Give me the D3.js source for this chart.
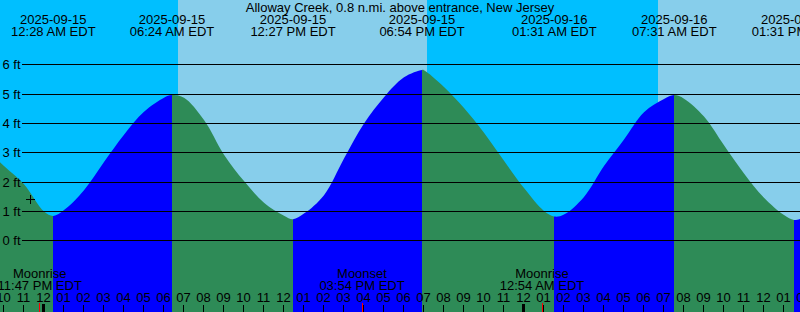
<!DOCTYPE html>
<html>
<head>
<meta charset="utf-8">
<script src="https://cdn.jsdelivr.net/npm/d3@7"></script>
<style>
    body { margin: 0; overflow: hidden; background: #fff; }
    svg { display: block; }
    text { font-family: "Liberation Sans", Arial, sans-serif; font-size: 13px; fill: #000; }
</style>
</head>
<body>
<div id="chart"></div>
<script>
    const title = 'Alloway Creek, 0.8 n.mi. above entrance, New Jersey';

    //high / low tides
    const extremeTimes = ['2025-09-15 00:28', '2025-09-15 06:24', '2025-09-15 12:27', '2025-09-15 18:54',
        '2025-09-16 01:31', '2025-09-16 07:31', '2025-09-16 13:31'];
    const extremeHeights = [0.85, 4.97, 0.74, 5.83, 0.83, 4.97, 0.71];
    const extremeTypes = ['L', 'H', 'L', 'H', 'L', 'H', 'L'];

    //hourly heights, first one at hourlyStart
    const hourlyStart = '2025-09-14 21:00';
    const hourlyHeights = [3.2, 2.55, 1.93, 1.0, 1.05, 1.73, 2.69, 3.62, 4.4, 4.88,
        4.88, 4.12, 2.94, 2.04, 1.3, 0.86, 0.93, 1.56, 2.81, 4.0,
        4.9, 5.58, 5.82, 5.25, 4.53, 3.69, 2.73, 1.8, 1.02, 0.9,
        1.5, 2.55, 3.46, 4.39, 4.84, 4.85, 4.24, 3.26, 2.3, 1.47,
        0.88, 0.8];

    //sun and moon
    const sunTimes = ['2025-09-15 06:42', '2025-09-15 19:09', '2025-09-16 06:42'];
    const sunTypes = ['rise', 'set', 'rise'];
    const moonTimes = ['2025-09-14 23:47', '2025-09-15 15:54', '2025-09-16 00:54'];
    const moonLabels = ['Moonrise', 'Moonset', 'Moonrise'];

    const feet = [0, 1, 2, 3, 4, 5, 6];
    const markerTime = '2025-09-14 23:18';
    const markerHeight = 1.4;

    const parse = d3.timeParse('%Y-%m-%d %H:%M');
    const fmtDate = d3.timeFormat('%Y-%m-%d');
    const fmtTime = d3.timeFormat('%I:%M %p');
    const width = 800;
    const height = 312;

    const svg = d3.select('#chart')
        .append('svg')
        .attr('width', width)
        .attr('height', height);

    //scales
    const x = d3.scaleTime()
        .domain([parse('2025-09-15 00:00'), parse('2025-09-16 00:00')])
        .range([44, 524]);
    const y = d3.scaleLinear()
        .domain([0, 6])
        .range([240.9, 64.9]);

    //sky
    const skyBounds = [x.invert(-5), ...sunTimes.map(parse), x.invert(width + 5)];
    svg.append('g')
        .selectAll('rect')
        .data(d3.pairs(skyBounds))
        .join('rect')
        .attr('x', d => Math.round(x(d[0])))
        .attr('width', d => Math.round(x(d[1])) - Math.round(x(d[0])))
        .attr('y', 0)
        .attr('height', height)
        .attr('fill', (d, i) => {
            const night = i < sunTypes.length ? sunTypes[i] === 'rise' : sunTypes[sunTypes.length - 1] === 'set';
            return night ? '#00bfff' : '#87ceeb';
        });

    //tide points
    const t0 = parse(hourlyStart);
    const points = hourlyHeights
        .map((h, i) => ({ t: d3.timeHour.offset(t0, i), h }))
        .concat(extremeTimes.map((t, i) => ({ t: parse(t), h: extremeHeights[i] })))
        .sort((a, b) => a.t - b.t);

    const area = d3.area()
        .x(d => x(d.t))
        .y0(height)
        .y1(d => y(d.h))
        .curve(d3.curveCatmullRom.alpha(0.5));

    //rising = blue, falling = green
    const tideBounds = [x.invert(-20), ...extremeTimes.map(parse), x.invert(width + 20)];
    const n = extremeTypes.length;
    const defs = svg.append('defs');
    const tide = svg.append('g');
    d3.pairs(tideBounds).forEach((d, i) => {
        const x0 = Math.round(x(d[0]));
        const x1 = Math.round(x(d[1]));
        defs.append('clipPath')
            .attr('id', 'seg' + i)
            .append('rect')
            .attr('x', x0)
            .attr('width', x1 - x0)
            .attr('y', 0)
            .attr('height', height);
        const falling = i < n ? extremeTypes[i] === 'L' : extremeTypes[n - 1] === 'H';
        tide.append('path')
            .datum(points)
            .attr('d', area)
            .attr('clip-path', `url(#seg${i})`)
            .attr('fill', falling ? '#2e8b57' : '#0000ff');
    });

    //grid lines
    svg.append('g')
        .selectAll('line')
        .data(feet)
        .join('line')
        .attr('x1', 22)
        .attr('x2', width)
        .attr('y1', d => Math.floor(y(d)) + 0.5)
        .attr('y2', d => Math.floor(y(d)) + 0.5)
        .attr('stroke', '#000')
        .attr('stroke-width', 1);

    svg.append('g')
        .selectAll('text')
        .data(feet)
        .join('text')
        .attr('x', 20.5)
        .attr('y', d => y(d) + 4.3)
        .attr('text-anchor', 'end')
        .text(d => d + ' ft');

    //title
    svg.append('text')
        .attr('x', width / 2)
        .attr('y', 12)
        .attr('text-anchor', 'middle')
        .text(title);

    //extreme labels
    const tideLabels = svg.append('g')
        .selectAll('g')
        .data(extremeTimes.map(parse))
        .join('g')
        .attr('transform', d => `translate(${x(d)},0)`);
    tideLabels.append('text')
        .attr('y', 24)
        .attr('text-anchor', 'middle')
        .text(d => fmtDate(d));
    tideLabels.append('text')
        .attr('y', 36)
        .attr('text-anchor', 'middle')
        .text(d => fmtTime(d) + ' EDT');

    //hour axis, ticks sit one pixel left of the data in the original
    const hours = d3.timeHour.range(x.invert(-10), x.invert(width + 10));
    const axis = svg.append('g')
        .attr('transform', `translate(-1,${height})`)
        .call(
            d3.axisTop(x)
                .tickValues(hours)
                .tickFormat(d3.timeFormat('%I'))
                .tickSize(7)
                .tickPadding(3)
        );
    axis.select('.domain').remove();
    axis.attr('font-size', null).attr('font-family', null);
    axis.selectAll('line').attr('stroke', '#000');

    //midnight marks
    svg.append('g')
        .selectAll('rect')
        .data(d3.timeDay.range(x.invert(0), x.invert(width)))
        .join('rect')
        .attr('x', d => Math.round(x(d)) - 2)
        .attr('width', 3)
        .attr('y', 304)
        .attr('height', 8)
        .attr('fill', '#000');

    //moon
    const moon = svg.append('g')
        .selectAll('g')
        .data(moonTimes.map(parse))
        .join('g')
        .attr('transform', d => `translate(${x(d)},0)`);
    moon.append('text')
        .attr('y', 278)
        .attr('text-anchor', 'middle')
        .text((d, i) => moonLabels[i]);
    moon.append('text')
        .attr('y', 290)
        .attr('text-anchor', 'middle')
        .text(d => fmtTime(d) + ' EDT');
    moon.append('line')
        .attr('x1', d => Math.floor(x(d)) + 0.5 - x(d))
        .attr('x2', d => Math.floor(x(d)) + 0.5 - x(d))
        .attr('y1', 303)
        .attr('y2', height)
        .attr('stroke', '#ff0000');

    //plus marker
    const cx = Math.floor(x(parse(markerTime))) + 0.5;
    const cy = Math.floor(y(markerHeight)) + 0.5;
    const plus = svg.append('g')
        .attr('stroke', '#000')
        .attr('stroke-width', 1);
    plus.append('line')
        .attr('x1', cx - 4.5).attr('x2', cx + 4.5)
        .attr('y1', cy).attr('y2', cy);
    plus.append('line')
        .attr('x1', cx).attr('x2', cx)
        .attr('y1', cy - 4.5).attr('y2', cy + 4.5);
</script>
</body>
</html>
